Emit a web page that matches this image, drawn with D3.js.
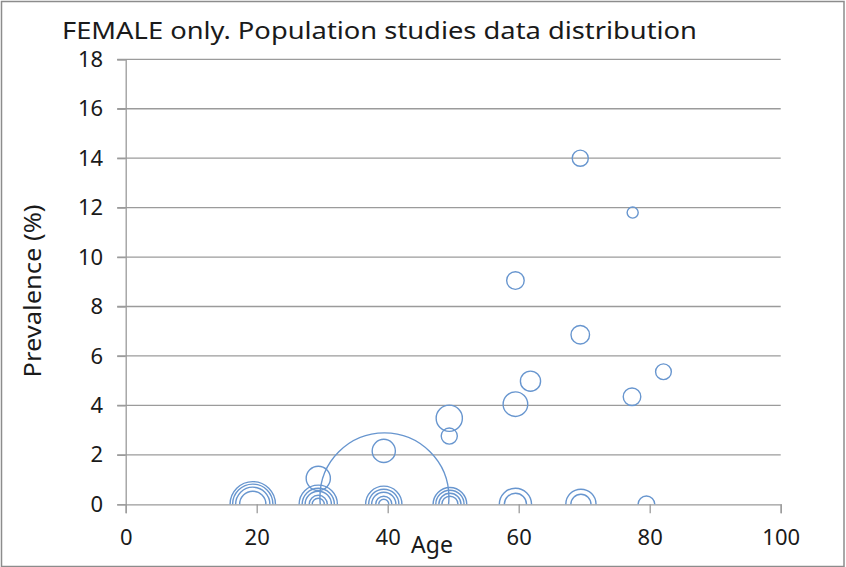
<!DOCTYPE html>
<html>
<head>
<meta charset="utf-8">
<script src="https://cdn.jsdelivr.net/npm/d3@7"></script>
<style>
  body { margin: 0; background: #fff; }
  svg { display: block; }
  text { font-family: "Noto Sans", sans-serif; fill: #1a1a1a; }
</style>
</head>
<body>
<svg id="chart" width="846" height="567"></svg>
<script>
// bubble data: age, prevalence (%), bubble size
const ages = [39.5, 69.4, 77.4, 59.5, 69.4, 61.8, 82.1, 59.5, 77.3, 49.4, 49.4, 39.4, 29.4,
  19.4, 19.4, 19.4, 19.4,
  29.4, 29.4, 29.4, 29.4, 29.4,
  39.4, 39.4, 39.4, 39.4, 39.4,
  49.5, 49.5, 49.5, 49.5,
  59.5, 59.5,
  69.5, 69.5,
  79.5];
const prevalence = [0.28, 14, 11.8, 9.05, 6.86, 4.98, 5.36, 4.05, 4.35, 3.48, 2.76, 2.16, 1.05,
  0, 0, 0, 0,
  0, 0, 0, 0, 0,
  0, 0, 0, 0, 0,
  0, 0, 0, 0,
  0, 0,
  0, 0,
  0];
const sampleSize = [10000, 156, 74, 185, 207, 244, 149, 363, 185, 413, 156, 323, 352,
  1236, 977, 706, 413,
  881, 625, 413, 198, 88,
  791, 549, 352, 156, 61,
  681, 479, 295, 156,
  625, 295,
  549, 244,
  168];

const xTicks = [0, 20, 40, 60, 80, 100];
const yTicks = [0, 2, 4, 6, 8, 10, 12, 14, 16, 18];

const svg = d3.select("#chart");
const width = +svg.attr("width");
const height = +svg.attr("height");

const plot = { left: 125.7, right: 780.7, top: 59.3, bottom: 504.3 };

const x = d3.scaleLinear().domain([0, 100]).range([plot.left, plot.right]);
const y = d3.scaleLinear().domain([0, 18]).range([plot.bottom, plot.top]);
const r = d3.scaleSqrt().domain([0, d3.max(sampleSize)]).range([0, 64.5]);

const gridColor = "#9b9b9b";

// chart frame
svg.append("rect")
  .attr("x", 1.5).attr("y", 1.5)
  .attr("width", width - 3.5).attr("height", height - 2)
  .attr("fill", "none")
  .attr("stroke", "#8c8c8c")
  .attr("stroke-width", 1.5);

// horizontal gridlines (with y ticks sticking out to the left)
svg.append("g")
  .selectAll("line")
  .data(yTicks.filter(d => d > 0))
  .join("line")
  .attr("x1", plot.left - 8.5).attr("x2", plot.right)
  .attr("y1", d => y(d)).attr("y2", d => y(d))
  .attr("stroke", gridColor)
  .attr("stroke-width", 1.3);

// y axis
const yAxis = d3.axisLeft(y).tickValues(yTicks).tickSize(8.5).tickPadding(14);
svg.append("g")
  .attr("transform", `translate(${plot.left},0)`)
  .call(yAxis)
  .call(g => g.select(".domain").attr("stroke", gridColor).attr("stroke-width", 1.3))
  .call(g => g.selectAll(".tick line").attr("stroke", gridColor).attr("stroke-width", 1.3))
  .call(g => g.selectAll(".tick text").attr("font-size", 22).attr("font-family", "Noto Sans").attr("fill", "#1a1a1a"));

// x axis
const xAxis = d3.axisBottom(x).tickValues(xTicks).tickSize(9).tickSizeOuter(9).tickPadding(16);
svg.append("g")
  .attr("transform", `translate(0,${plot.bottom})`)
  .call(xAxis)
  .call(g => g.select(".domain").attr("stroke", gridColor).attr("stroke-width", 1.3))
  .call(g => g.selectAll(".tick line").attr("stroke", gridColor).attr("stroke-width", 1.3))
  .call(g => g.selectAll(".tick text").attr("font-size", 22).attr("font-family", "Noto Sans").attr("fill", "#1a1a1a"));

// bubbles, clipped to the plot area
svg.append("clipPath").attr("id", "plot-clip")
  .append("rect")
  .attr("x", plot.left).attr("y", plot.top - 20)
  .attr("width", plot.right - plot.left).attr("height", plot.bottom - plot.top + 20);

const bubbles = ages.map((a, i) => ({ age: a, prev: prevalence[i], size: sampleSize[i] }))
  .sort((a, b) => b.size - a.size);

svg.append("g")
  .attr("clip-path", "url(#plot-clip)")
  .selectAll("circle")
  .data(bubbles)
  .join("circle")
  .attr("cx", d => x(d.age))
  .attr("cy", d => y(d.prev))
  .attr("r", d => r(d.size))
  .attr("fill", "none")
  .attr("stroke", "#6896cf")
  .attr("stroke-width", 1.4);

// title and axis titles
svg.append("text")
  .attr("x", 62).attr("y", 39)
  .attr("font-size", 23)
  .attr("textLength", 635)
  .attr("lengthAdjust", "spacingAndGlyphs")
  .text("FEMALE only. Population studies data distribution");

svg.append("text")
  .attr("x", 432).attr("y", 553)
  .attr("text-anchor", "middle")
  .attr("font-size", 23)
  .text("Age");

svg.append("text")
  .attr("transform", "translate(41,291) rotate(-90)")
  .attr("text-anchor", "middle")
  .attr("font-size", 23)
  .attr("textLength", 173)
  .attr("lengthAdjust", "spacingAndGlyphs")
  .text("Prevalence (%)");
</script>
</body>
</html>
